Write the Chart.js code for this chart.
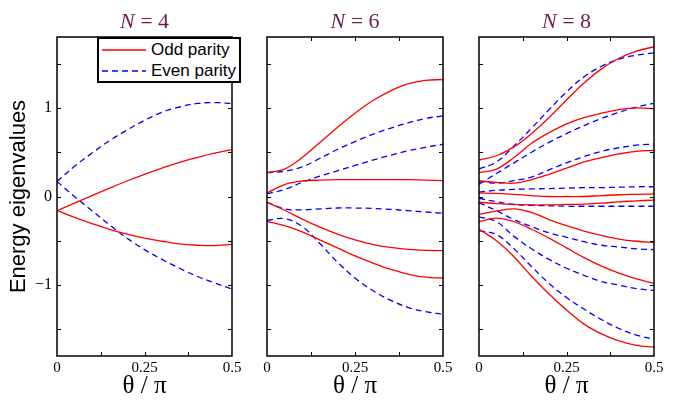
<!DOCTYPE html>
<html>
<head>
<meta charset="utf-8">
<script src="https://cdn.jsdelivr.net/npm/chart.js@4.4.1/dist/chart.umd.min.js"></script>
<style>
  html, body { margin: 0; padding: 0; background: #fff; }
  #wrap { position: relative; width: 678px; height: 401px; overflow: hidden; }
  #wrap canvas { position: absolute; left: 0; top: 0; }
  #legend {
    position: absolute; left: 97px; top: 37px; width: 140px; height: 42px;
    border: 2px solid #000; background: #fff;
    font: 17px "Liberation Sans", Arial, sans-serif; color: #000;
  }
  #legend svg { position: absolute; left: 3px; }
  #legend span { position: absolute; left: 52px; line-height: 20px; }
</style>
</head>
<body>
<div id="wrap">
  <canvas id="p4" width="678" height="401"></canvas>
  <canvas id="p6" width="678" height="401"></canvas>
  <canvas id="p8" width="678" height="401"></canvas>
  <div id="legend">
    <svg width="44" height="4" style="top:9px"><line x1="0" y1="2" x2="44" y2="2" stroke="#ff0000" stroke-width="1.3"/></svg>
    <span style="top:1px">Odd parity</span>
    <svg width="44" height="4" style="top:30px"><line x1="0" y1="2" x2="44" y2="2" stroke="#0000ff" stroke-width="1.3" stroke-dasharray="6 4"/></svg>
    <span style="top:22px">Even parity</span>
  </div>
</div>
<script>
// θ/π 取樣點（所有曲線共用）
const theta = [0, 0.05, 0.1, 0.15, 0.2, 0.25, 0.3, 0.35, 0.4, 0.45, 0.5];

// N = 4
const n4Odd = [
  [-0.16, -0.075, 0.01, 0.095, 0.175, 0.25, 0.32, 0.385, 0.44, 0.49, 0.53],
  [-0.16, -0.235, -0.305, -0.37, -0.425, -0.47, -0.505, -0.535, -0.55, -0.555, -0.54],
];
const n4Even = [
  [0.17, 0.34, 0.49, 0.63, 0.75, 0.86, 0.95, 1.01, 1.05, 1.06, 1.05],
  [0.17, 0.0, -0.16, -0.32, -0.47, -0.60, -0.71, -0.81, -0.90, -0.975, -1.045],
];

// N = 6
const n6Odd = [
  [0.27, 0.31, 0.44, 0.61, 0.78, 0.94, 1.08, 1.19, 1.27, 1.31, 1.32],
  [0.04, 0.135, 0.175, 0.185, 0.19, 0.19, 0.19, 0.19, 0.19, 0.185, 0.18],
  [-0.065, -0.155, -0.255, -0.345, -0.425, -0.49, -0.54, -0.575, -0.597, -0.608, -0.61],
  [-0.28, -0.33, -0.40, -0.49, -0.58, -0.67, -0.75, -0.82, -0.875, -0.91, -0.92],
];
const n6Even = [
  [0.27, 0.285, 0.335, 0.43, 0.53, 0.62, 0.70, 0.77, 0.83, 0.88, 0.91],
  [0.03, 0.08, 0.16, 0.23, 0.29, 0.35, 0.41, 0.465, 0.515, 0.555, 0.59],
  [-0.065, -0.14, -0.15, -0.14, -0.13, -0.13, -0.135, -0.145, -0.16, -0.175, -0.19],
  [-0.27, -0.25, -0.34, -0.53, -0.74, -0.92, -1.06, -1.17, -1.25, -1.30, -1.33],
];

// N = 8
const n8Odd = [
  [0.41, 0.46, 0.56, 0.71, 0.89, 1.09, 1.28, 1.44, 1.56, 1.64, 1.69],
  [0.27, 0.31, 0.44, 0.60, 0.72, 0.82, 0.89, 0.94, 0.98, 1.00, 0.99],
  [0.175, 0.16, 0.15, 0.19, 0.25, 0.32, 0.39, 0.44, 0.48, 0.51, 0.52],
  [0.04, 0.035, 0.025, 0.01, 0.0, 0.0, 0.0, 0.01, 0.02, 0.025, 0.03],
  [-0.065, -0.08, -0.09, -0.095, -0.095, -0.09, -0.085, -0.075, -0.06, -0.05, -0.04],
  [-0.20, -0.165, -0.14, -0.18, -0.26, -0.33, -0.39, -0.44, -0.48, -0.505, -0.52],
  [-0.285, -0.245, -0.285, -0.37, -0.47, -0.58, -0.69, -0.785, -0.865, -0.93, -0.98],
  [-0.37, -0.50, -0.68, -0.90, -1.10, -1.28, -1.44, -1.55, -1.63, -1.68, -1.70],
];
const n8Even = [
  [0.31, 0.39, 0.57, 0.77, 0.98, 1.18, 1.35, 1.47, 1.55, 1.595, 1.62],
  [0.14, 0.26, 0.38, 0.50, 0.61, 0.71, 0.80, 0.88, 0.95, 1.01, 1.05],
  [0.175, 0.15, 0.18, 0.22, 0.30, 0.38, 0.45, 0.51, 0.55, 0.58, 0.59],
  [0.05, 0.07, 0.08, 0.085, 0.09, 0.095, 0.10, 0.10, 0.105, 0.11, 0.11],
  [-0.02, -0.06, -0.09, -0.10, -0.105, -0.11, -0.11, -0.11, -0.11, -0.11, -0.11],
  [-0.07, -0.16, -0.26, -0.34, -0.41, -0.46, -0.51, -0.55, -0.57, -0.59, -0.60],
  [-0.23, -0.285, -0.45, -0.59, -0.71, -0.81, -0.89, -0.96, -1.00, -1.04, -1.06],
  [-0.385, -0.43, -0.59, -0.79, -0.98, -1.14, -1.27, -1.39, -1.49, -1.565, -1.61],
];

// 刻度
const xTickMarks = [0.125, 0.25, 0.375];
const yTickMarks = [-1.5, -1, -0.5, 0, 0.5, 1, 1.5];

const ODD_COLOR   = '#ff0000';
const EVEN_COLOR  = '#0000ff';
const TITLE_COLOR = '#6b1d52';
const SERIF = '"Liberation Serif", "Times New Roman", serif';
const TICK_LEN = 4;

/** 外框、內向刻度與標題 */
const framePlugin = {
  id: 'frame',
  afterDraw(chart, args, opts) {
    const { ctx, chartArea: a, scales: { x, y } } = chart;
    ctx.save();
    ctx.strokeStyle = '#000';
    ctx.lineWidth = 1.5;
    ctx.strokeRect(a.left, a.top, a.right - a.left, a.bottom - a.top);

    ctx.lineWidth = 1;
    ctx.beginPath();
    xTickMarks.forEach(v => {
      const px = Math.round(x.getPixelForValue(v)) + 0.5;
      ctx.moveTo(px, a.bottom); ctx.lineTo(px, a.bottom - TICK_LEN);
      ctx.moveTo(px, a.top);    ctx.lineTo(px, a.top + TICK_LEN);
    });
    yTickMarks.forEach(v => {
      const py = Math.round(y.getPixelForValue(v)) + 0.5;
      ctx.moveTo(a.left, py);  ctx.lineTo(a.left + TICK_LEN, py);
      ctx.moveTo(a.right, py); ctx.lineTo(a.right - TICK_LEN, py);
    });
    ctx.stroke();

    // 標題：斜體 N + 正體 " = n"
    const cx = (a.left + a.right) / 2;
    const rest = ' = ' + opts.n;
    ctx.fillStyle = TITLE_COLOR;
    ctx.textAlign = 'left';
    ctx.textBaseline = 'alphabetic';
    ctx.font = `italic 22px ${SERIF}`;
    const wN = ctx.measureText('N').width;
    ctx.font = `22px ${SERIF}`;
    const wR = ctx.measureText(rest).width;
    const x0 = cx - (wN + wR) / 2;
    ctx.font = `italic 22px ${SERIF}`;
    ctx.fillText('N', x0, 28);
    ctx.font = `22px ${SERIF}`;
    ctx.fillText(rest, x0 + wN, 28);
    ctx.restore();
  },
};

function _line(vals, color, dashed) {
  return {
    data: theta.map((t, i) => ({ x: t, y: vals[i] })),
    borderColor: color,
    borderWidth: 1.3,
    borderDash: dashed ? [6, 4] : [],
    pointRadius: 0,
    fill: false,
    tension: 0.4,
  };
}

function _fmtY(v) {
  if (!Number.isInteger(v)) return '';
  return v < 0 ? '\u2212' + Math.abs(v) : String(v);
}

function makePanel(id, n, oddSets, evenSets, padLeft, yWidth, padRight, first) {
  const ctx = document.getElementById(id).getContext('2d');
  return new Chart(ctx, {
    type: 'line',
    data: {
      datasets: [
        ...oddSets.map(v => _line(v, ODD_COLOR, false)),
        ...evenSets.map(v => _line(v, EVEN_COLOR, true)),
      ],
    },
    options: {
      responsive: false,
      animation: false,
      devicePixelRatio: 1,
      events: [],
      layout: { padding: { left: padLeft, right: padRight, top: 37, bottom: 0 } },
      scales: {
        x: {
          type: 'linear',
          min: 0,
          max: 0.5,
          grid: { display: false, drawTicks: false },
          border: { display: false },
          afterFit: s => { s.height = 45; },
          ticks: {
            stepSize: 0.25,
            autoSkip: false,
            maxRotation: 0,
            padding: 3,
            color: '#000',
            font: { family: SERIF, size: 15 },
            callback: v => String(v),
          },
          title: {
            display: true,
            text: '\u03b8 / \u03c0',
            color: '#000',
            font: { family: SERIF, size: 25 },
            padding: { top: 0, bottom: 0 },
          },
        },
        y: {
          type: 'linear',
          min: -1.8,
          max: 1.8,
          grid: { display: false, drawTicks: false },
          border: { display: false },
          afterFit: s => { s.width = yWidth; },
          ticks: {
            display: first,
            stepSize: 1,
            padding: 5,
            color: '#000',
            font: { family: SERIF, size: 16 },
            callback: _fmtY,
          },
          title: {
            display: first,
            text: 'Energy eigenvalues',
            color: '#000',
            font: { family: '"Liberation Sans", Arial, sans-serif', size: 22 },
            padding: { top: 6, bottom: 0 },
          },
        },
      },
      plugins: {
        legend: { display: false },
        tooltip: { enabled: false },
        frame: { n },
      },
    },
    plugins: [framePlugin],
  });
}

makePanel('p4', 4, n4Odd, n4Even, 0, 57, 446, true);
makePanel('p6', 6, n6Odd, n6Even, 250, 17, 235, false);
makePanel('p8', 8, n8Odd, n8Even, 462, 17, 24, false);
</script>
</body>
</html>
